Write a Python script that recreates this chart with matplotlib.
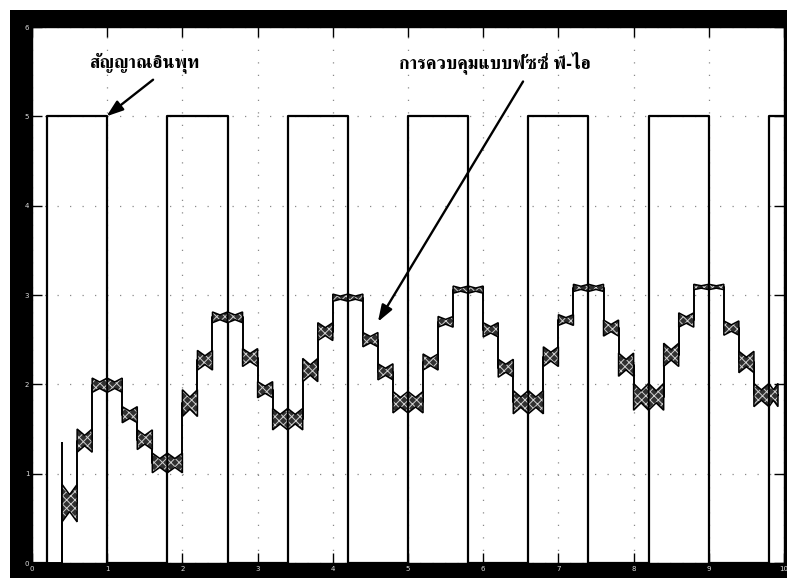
import numpy as np
import matplotlib
matplotlib.use("Agg")
import matplotlib.pyplot as plt
from matplotlib.patches import Rectangle, Polygon

# ---- data -------------------------------------------------------------
# controller output level held over each 0.2 s sample
sample_period = 0.2
output_level = [0.00, 0.00, 0.67, 1.37, 1.99, 1.99, 1.66, 1.38, 1.12, 1.12,
                1.79, 2.27, 2.75, 2.75, 2.30, 1.94, 1.61, 1.61, 2.16, 2.59,
                2.97, 2.97, 2.50, 2.14, 1.80, 1.80, 2.25, 2.70, 3.06, 3.06,
                2.61, 2.18, 1.80, 1.80, 2.31, 2.72, 3.08, 3.08, 2.63, 2.22,
                1.86, 1.86, 2.33, 2.72, 3.09, 3.09, 2.63, 2.25, 1.88, 1.88]
# half-height of the switching ripple within each sample
output_ripple = [0.00, 0.00, 0.21, 0.13, 0.08, 0.08, 0.09, 0.11, 0.11, 0.11,
                 0.15, 0.11, 0.06, 0.06, 0.10, 0.09, 0.12, 0.12, 0.13, 0.10,
                 0.04, 0.04, 0.08, 0.09, 0.12, 0.12, 0.09, 0.06, 0.04, 0.04,
                 0.08, 0.10, 0.13, 0.13, 0.11, 0.06, 0.04, 0.04, 0.09, 0.13,
                 0.15, 0.15, 0.13, 0.08, 0.03, 0.03, 0.08, 0.12, 0.13, 0.13]
output_end = 9.92
first_peak = 1.35

# square-wave reference input
input_edges = [0.2, 1.0, 1.8, 2.6, 3.4, 4.2, 5.0, 5.8, 6.6, 7.4, 8.2, 9.0, 9.8]
input_low = 0.0
input_high = 5.0

x_ticks = [0, 1, 2, 3, 4, 5, 6, 7, 8, 9, 10]
y_ticks = [0, 1, 2, 3, 4, 5, 6]
x_tick_labels = ["0", "1", "2", "3", "4", "5", "6", "7", "8", "9", "10"]
y_tick_labels = ["0", "1", "2", "3", "4", "5", "6"]

input_label = "สัญญาณอินพุท"
output_label = "การควบคุมแบบฟัซซี่ พี-ไอ"

# looped serif Thai face, falling back to DejaVu for anything missing
text_family = ["FreeSerif", "Noto Serif Thai", "Sarabun", "DejaVu Sans"]

# ---- figure -----------------------------------------------------------
W, H = 787, 578
fig = plt.figure(figsize=(W / 100, H / 100), dpi=100)
fig.patches.append(Rectangle((10 / W, 0), 1, (H - 10) / H,
                             transform=fig.transFigure, facecolor="black",
                             edgecolor="none", zorder=-10))
ax = fig.add_axes([32 / W, (H - 563) / H, (784 - 32) / W, (563 - 27) / H])
ax.set_zorder(5)
ax.set_facecolor("white")
ax.set_xlim(0, 10)
ax.set_ylim(0, 6)

# ticks and dotted grid
ax.set_xticks(x_ticks)
ax.set_yticks(y_ticks)
ax.set_xticklabels(x_tick_labels)
ax.set_yticklabels(y_tick_labels)
ax.grid(True, color="#8a8a8a", linestyle=(0, (1, 9)), linewidth=0.9)
ax.tick_params(direction="in", length=7, width=1, top=True, right=True,
               labelsize=5, labelcolor="#dddddd", pad=2)
for s in ax.spines.values():
    s.set_color("black")
    s.set_linewidth(1)

# square wave
sx, sy = [0.0], [input_low]
level = input_low
for e in input_edges:
    sx.append(e); sy.append(level)
    level = input_high if level == input_low else input_low
    sx.append(e); sy.append(level)
sx.append(10.0); sy.append(level)
ax.plot(sx, sy, color="black", linewidth=1.6, zorder=3)

# sampled output with ripple bands
n = len(output_level)
t_start = np.arange(n) * sample_period
t_stop = np.minimum(t_start + sample_period, output_end)
lx, ly = [], []
for k in range(n):
    lx += [t_start[k], t_stop[k]]
    ly += [output_level[k], output_level[k]]
ax.plot(lx, ly, color="black", linewidth=1.4, zorder=4)
ax.vlines(t_start[2], 0, first_peak, color="black", linewidth=1.4, zorder=4)

plt.rcParams["hatch.linewidth"] = 0.7
waist = 0.45
for k in range(n):
    w = output_ripple[k]
    if w <= 0:
        continue
    t0, t1 = t_start[k], t_stop[k]
    tm = 0.5 * (t0 + t1)
    lv = output_level[k]
    pts = [(t0, lv + w), (tm, lv + w * waist), (t1, lv + w),
           (t1, lv - w), (tm, lv - w * waist), (t0, lv - w)]
    ax.add_patch(Polygon(pts, closed=True, facecolor="#303030",
                         edgecolor="#d0d0d0", hatch="xxxx", linewidth=0,
                         zorder=5))
    ax.add_patch(Polygon(pts, closed=True, facecolor="none",
                         edgecolor="black", linewidth=1.1, zorder=6))

# annotations: labels with arrows pointing at the input edge and the output
arrow = dict(arrowstyle="-|>,head_length=1.0,head_width=0.35",
             color="black", lw=1.7, shrinkA=0, shrinkB=0)
ax.text(1.51, 5.60, input_label, ha="center", va="center", fontsize=13,
        fontweight="bold", family=text_family)
ax.annotate("", xy=(0.99, 5.0), xytext=(1.61, 5.41), arrowprops=arrow)
ax.text(6.15, 5.60, output_label, ha="center", va="center", fontsize=13,
        fontweight="bold", family=text_family)
ax.annotate("", xy=(4.6, 2.70), xytext=(6.53, 5.39), arrowprops=arrow)

fig.savefig("out.png", dpi=100, facecolor="white")
